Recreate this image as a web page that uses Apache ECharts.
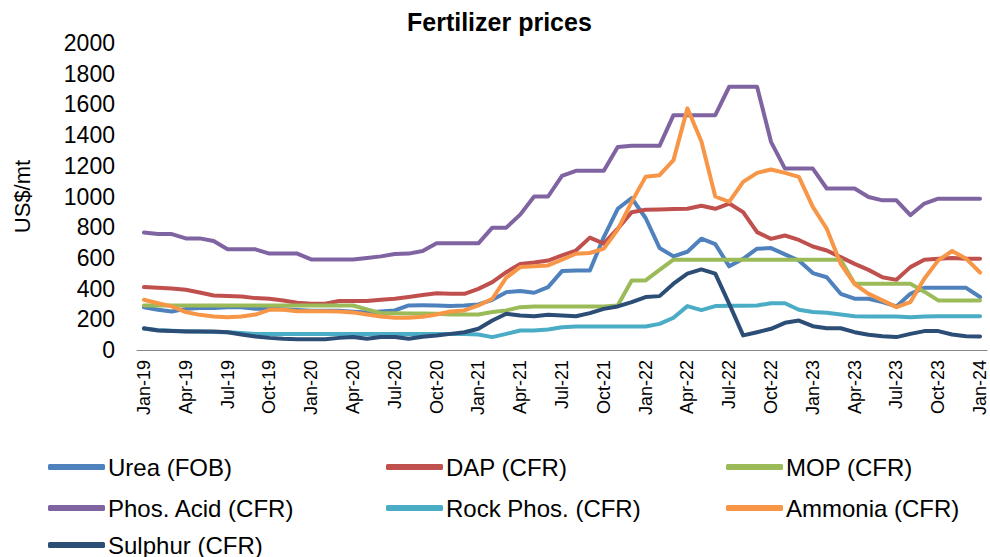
<!DOCTYPE html>
<html>
<head>
<meta charset="utf-8">
<script src="https://cdn.jsdelivr.net/npm/echarts@6/dist/echarts.min.js"></script>
<style>
  html, body { margin: 0; padding: 0; background: #fff; }
  #main { width: 990px; height: 557px; }
</style>
</head>
<body>
<div id="main"></div>
<script>
// monthly, Jan-19 .. Jan-24
var monthNames = ['Jan', 'Feb', 'Mar', 'Apr', 'May', 'Jun', 'Jul', 'Aug', 'Sep', 'Oct', 'Nov', 'Dec'];
var years = ['19', '20', '21', '22', '23', '24'];
var categories = [];
years.forEach(function (y) {
  monthNames.forEach(function (m) { categories.push(m + '-' + y); });
});
categories = categories.slice(0, 61);

var urea = [279, 262, 251, 268, 273, 273, 279, 279, 268, 268,
  265, 260, 255, 255, 255, 250, 245, 251, 258, 290,
  291, 290, 286, 290, 297, 327, 377, 384, 373, 410,
  514, 518, 518, 736, 920, 990, 860, 665, 610, 640,
  725, 690, 545, 594, 660, 664, 623, 583, 501, 474,
  366, 334, 334, 312, 284, 366, 405, 405, 405, 405,
  345];
var dap = [410, 405, 401, 392, 375, 355, 351, 349, 338, 334,
  323, 308, 301, 301, 319, 319, 319, 327, 334, 345,
  358, 370, 366, 366, 398, 442, 507, 561, 570, 583,
  616, 648, 732, 693, 790, 898, 914, 916, 918, 920,
  940, 920, 954, 898, 768, 724, 746, 717, 674, 648,
  605, 561, 522, 474, 457, 540, 588, 594, 599, 594,
  594];
var mop = [290, 290, 290, 290, 290, 290, 290, 290, 290, 290,
  290, 290, 290, 290, 290, 290, 265, 240, 240, 238,
  238, 236, 231, 231, 231, 247, 258, 279, 284, 284,
  284, 284, 284, 284, 290, 453, 453, 522, 588, 588,
  588, 588, 588, 588, 588, 588, 588, 588, 588, 588,
  588, 432, 432, 432, 432, 432, 380, 323, 323, 323,
  323];
var phosAcid = [765, 755, 755, 727, 727, 710, 656, 656, 656, 628,
  628, 628, 590, 590, 590, 590, 600, 610, 625, 628,
  645, 695, 695, 695, 695, 797, 797, 882, 1000, 1000,
  1134, 1167, 1167, 1167, 1323, 1330, 1330, 1330, 1530, 1530,
  1530, 1530, 1715, 1715, 1715, 1356, 1182, 1182, 1182, 1052,
  1052, 1052, 997, 975, 975, 878, 954, 986, 986, 986,
  986];
var rockPhos = [138, 130, 125, 122, 120, 118, 115, 110, 105, 105,
  105, 105, 105, 105, 105, 105, 105, 105, 105, 105,
  105, 105, 105, 105, 101, 84, 105, 127, 127, 133,
  148, 153, 153, 153, 153, 153, 153, 170, 210, 286,
  260, 286, 288, 288, 290, 305, 305, 262, 247, 242,
  231, 220, 218, 218, 218, 214, 218, 220, 220, 220,
  220];
var ammonia = [327, 305, 284, 247, 229, 218, 214, 218, 231, 262,
  262, 253, 253, 253, 251, 245, 231, 218, 210, 210,
  216, 231, 251, 258, 290, 334, 471, 540, 545, 551,
  588, 627, 632, 660, 784, 965, 1128, 1139, 1237, 1574,
  1360, 1000, 965, 1095, 1154, 1176, 1154, 1128, 932, 790,
  561, 430, 366, 323, 279, 312, 464, 584, 645, 595,
  505];
var sulphur = [142, 127, 123, 120, 120, 120, 116, 101, 88, 79,
  73, 70, 70, 70, 79, 84, 73, 84, 84, 73,
  86, 94, 105, 116, 138, 192, 236, 225, 220, 229,
  225, 220, 240, 268, 284, 312, 345, 351, 432, 497,
  525, 497, 300, 95, 116, 138, 177, 192, 155, 142,
  142, 116, 99, 90, 84, 105, 123, 123, 101, 90,
  88];

var seriesNames = ['Urea (FOB)', 'DAP (CFR)', 'MOP (CFR)', 'Phos. Acid (CFR)',
  'Rock Phos. (CFR)', 'Ammonia (CFR)', 'Sulphur (CFR)'];
var seriesData = [urea, dap, mop, phosAcid, rockPhos, ammonia, sulphur];
var colors = ['#4F81BD', '#C0504D', '#9BBB59', '#8064A2', '#4BACC6', '#F79646', '#2C4D75'];

var font = 'Liberation Sans, Arial, sans-serif';

// legend: 3 columns, 3 rows
var legendPos = [[48, 455], [386, 455], [726, 455],
                 [48, 496], [386, 496], [726, 496],
                 [48, 533]];
var legends = seriesNames.map(function (name, i) {
  return {
    data: [name],
    left: legendPos[i][0],
    top: legendPos[i][1],
    icon: 'roundRect',
    itemWidth: 57,
    itemHeight: 6,
    itemGap: 0,
    padding: 0,
    textStyle: { fontFamily: font, fontSize: 24, color: '#000', padding: [0, 0, 0, -2] }
  };
});

var option = {
  animation: false,
  color: colors,
  title: {
    text: 'Fertilizer prices',
    left: 407,
    top: 9,
    padding: 0,
    textStyle: { fontFamily: font, fontSize: 25, fontWeight: 'bold', color: '#000' }
  },
  legend: legends,
  grid: { left: 137, right: 3, top: 43, bottom: 207 },
  xAxis: {
    type: 'category',
    data: categories,
    boundaryGap: true,
    axisLine: { lineStyle: { color: '#868686', width: 1 } },
    axisTick: { interval: 2, length: 5, lineStyle: { color: '#868686' } },
    axisLabel: { interval: 2, rotate: 90, margin: 10, fontFamily: font, fontSize: 18, color: '#000' }
  },
  yAxis: {
    type: 'value',
    min: 0,
    max: 2000,
    interval: 200,
    name: 'US$/mt',
    nameLocation: 'middle',
    nameGap: 104,
    nameTextStyle: { fontFamily: font, fontSize: 22, color: '#000' },
    axisLine: { show: false },
    axisTick: { show: false },
    splitLine: { show: false },
    axisLabel: {
      margin: 22, fontFamily: font, fontSize: 23, color: '#000',
      formatter: function (v) { return String(v); }
    }
  },
  series: seriesNames.map(function (name, i) {
    return {
      name: name,
      type: 'line',
      data: seriesData[i],
      symbol: 'none',
      lineStyle: { width: 4, color: colors[i], cap: 'round', join: 'round' }
    };
  })
};

var chart = echarts.init(document.getElementById('main'), null, { renderer: 'svg' });
chart.setOption(option);
</script>
</body>
</html>
